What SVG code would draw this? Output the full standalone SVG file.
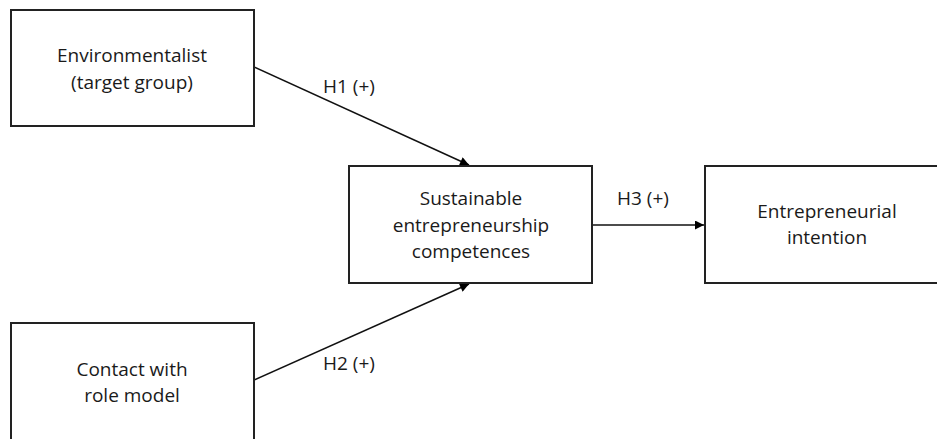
<svg xmlns="http://www.w3.org/2000/svg" width="937" height="439" viewBox="0 0 937 439">
<style>
.box{fill:#fff;stroke:#222;stroke-width:2}
.t{font-family:"Open Sans","Liberation Sans",sans-serif;font-size:19px;fill:#1a1a1a;text-anchor:middle}
.c{stroke:#111;stroke-width:1.5;fill:none;marker-end:url(#ah)}
</style>
<defs>
<marker id="ah" viewBox="0 0 10 10" refX="10" refY="5" markerWidth="10" markerHeight="9" markerUnits="userSpaceOnUse" orient="auto">
<path d="M0,0 L10,5 L0,10 Z" fill="#000"/>
</marker>
</defs>
<rect width="937" height="439" fill="#fff"/>
<g id="connectors">
<line class="c" x1="254" y1="67" x2="469" y2="165"/>
<line class="c" x1="254" y1="380" x2="469" y2="284"/>
<line class="c" x1="592" y1="225" x2="704" y2="225"/>
<text class="t" x="349" y="93">H1 (+)</text>
<text class="t" x="643" y="205">H3 (+)</text>
<text class="t" x="349" y="370">H2 (+)</text>
</g>
<g id="n1">
<rect class="box" x="11" y="10" width="243" height="116"/>
<text class="t" x="132" y="62">Environmentalist</text>
<text class="t" x="132" y="89">(target group)</text>
</g>
<g id="n2">
<rect class="box" x="349" y="166" width="243" height="117"/>
<text class="t" x="471" y="205">Sustainable</text>
<text class="t" x="471" y="232">entrepreneurship</text>
<text class="t" x="471" y="258">competences</text>
</g>
<g id="n3">
<rect class="box" x="705" y="166" width="243" height="117"/>
<text class="t" x="827" y="218">Entrepreneurial</text>
<text class="t" x="827" y="244">intention</text>
</g>
<g id="n4">
<rect class="box" x="11" y="323" width="243" height="126"/>
<text class="t" x="132" y="376">Contact with</text>
<text class="t" x="132" y="402">role model</text>
</g>
</svg>
